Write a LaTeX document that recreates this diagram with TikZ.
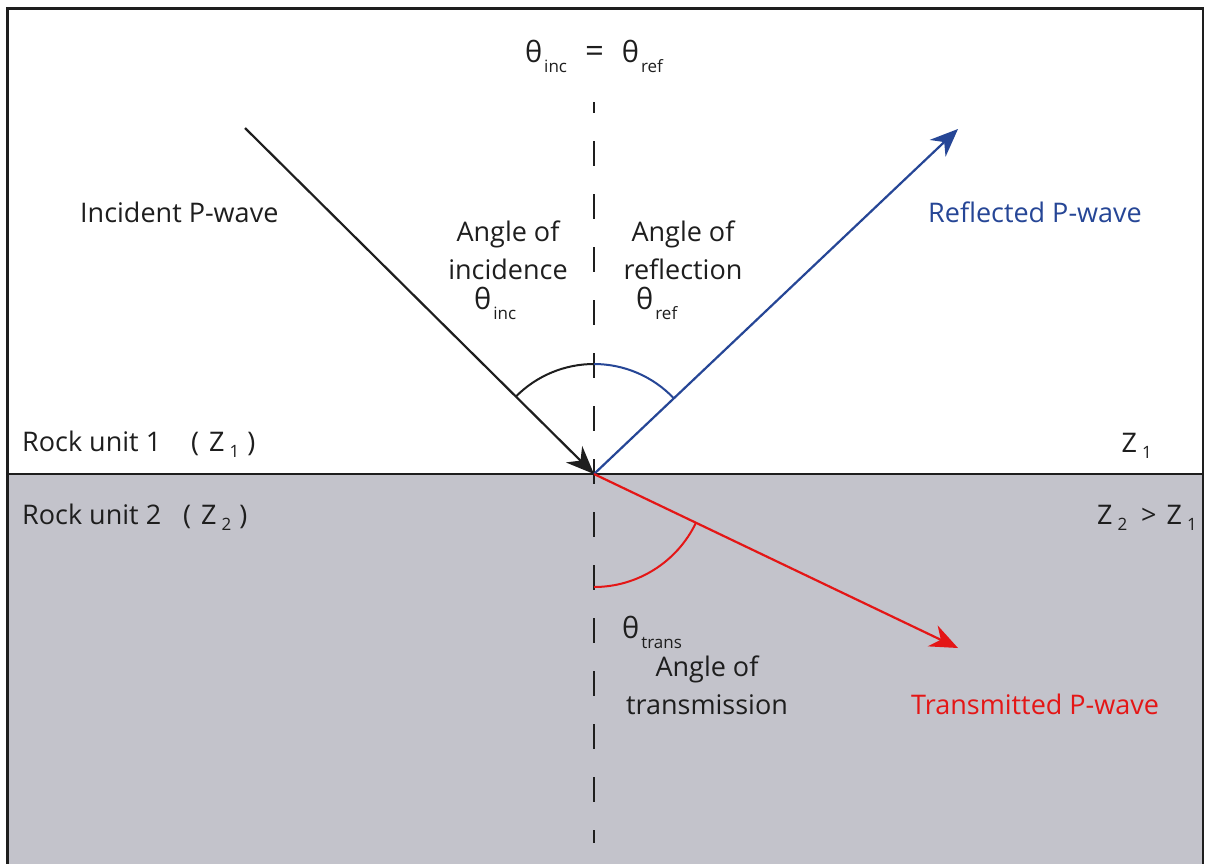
\documentclass[tikz,border=0pt]{standalone}
\usepackage{fontspec}
\setmainfont{Open Sans}
\usetikzlibrary{arrows.meta}
\definecolor{rockgray}{RGB}{195,195,203}
\definecolor{wblue}{RGB}{38,70,150}
\definecolor{wred}{RGB}{228,22,22}
\definecolor{ink}{RGB}{30,30,30}
\newcommand{\thsub}[1]{{\fontsize{29}{29}\selectfont θ}\kern2pt\raisebox{-10pt}{\fontsize{17}{17}\selectfont #1}}
\newcommand{\zsub}[1]{Z\kern5pt\raisebox{-6pt}{\fontsize{17}{17}\selectfont #1}}
\begin{document}
\begin{tikzpicture}[x=1pt,y=-1pt,
  lbl/.style={inner sep=0pt, text=ink, font=\fontsize{27}{38}\selectfont},
  frame/.style={line width=2.5pt, draw=ink},
  ray/.style={line width=2.2pt},
  tip/.style={-{Stealth[length=28pt,width=23pt,inset=9pt]}},
  anglearc/.style={line width=2pt}]
\useasboundingbox (0,0) rectangle (1205,863);
\fill[white] (0,0) rectangle (1205,863);
\fill[rockgray] (7.5,474) rectangle (1203,870);
\draw[frame] (7.5,875) -- (7.5,8.5) -- (1203,8.5) -- (1203,875);
\draw[frame] (7.5,474) -- (1203,474);

\coordinate (O) at (594,474);
\coordinate (inc) at (245,128);
\coordinate (ref) at (958,129);
\coordinate (tra) at (958,648);
\coordinate (dtop) at (594,102);
\coordinate (dbot) at (594,843);

% normal
\draw[line width=2.5pt, draw=ink, dash pattern=on 25pt off 28pt, dash phase=14pt] (dtop) -- (dbot);

% rays
\draw[ray, draw=ink, tip] (inc) -- (O);
\draw[ray, draw=wblue, tip] (O) -- (ref);
\draw[ray, draw=wred, tip] (O) -- (tra);

% angle arcs
\draw[anglearc, draw=ink] (O) ++(135.2:110pt) arc[start angle=135.2, end angle=90, radius=110pt];
\draw[anglearc, draw=wblue] (O) ++(90:110pt) arc[start angle=90, end angle=43.5, radius=110pt];
\draw[anglearc, draw=wred] (O) ++(-90:113pt) arc[start angle=-90, end angle=-25.5, radius=113pt];

% labels
\node[lbl, anchor=base] (eq) at (594,62) {\thsub{inc}\hspace{18pt}{\fontsize{33}{33}\selectfont =}\hspace{18pt}\thsub{ref}};
\node[lbl, anchor=base west] (incl) at (80,222) {Incident P-wave};
\node[lbl, anchor=base, align=center] (aoi) at (508,279) {Angle of\\incidence};
\node[lbl, anchor=base, align=center] (aor) at (683,279) {Angle of\\reflection};
\node[lbl, anchor=base west] (thi) at (474,309) {\thsub{inc}};
\node[lbl, anchor=base west] (thr) at (636,309) {\thsub{ref}};
\node[lbl, anchor=base west, text=wblue] (refl) at (928,222) {Reflected P-wave};
\node[lbl, anchor=base west] (r1) at (22,451) {Rock unit 1\hspace{30pt}(\hspace{10pt}\zsub{1}\hspace{8pt})};
\node[lbl, anchor=base east] (z1) at (1152,452) {\zsub{1}};
\node[lbl, anchor=base west] (r2) at (22,524) {Rock unit 2\hspace{22pt}(\hspace{10pt}\zsub{2}\hspace{8pt})};
\node[lbl, anchor=base east] (z2) at (1197,524) {\zsub{2}\hspace{14pt}>\hspace{10pt}\zsub{1}};
\node[lbl, anchor=base west] (tht) at (622,638) {\thsub{trans}};
\node[lbl, anchor=base, align=center] (aot) at (707,714) {Angle of\\transmission};
\node[lbl, anchor=base west, text=wred] (tral) at (911,714) {Transmitted P-wave};
\end{tikzpicture}
\end{document}
